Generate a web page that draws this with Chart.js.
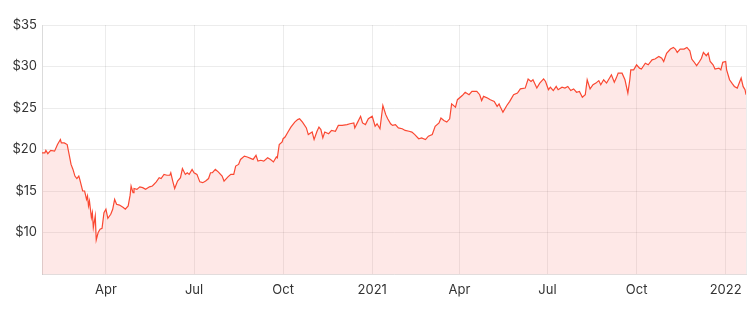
<!DOCTYPE html>
<html>
<head>
<meta charset="utf-8">
<script src="https://cdn.jsdelivr.net/npm/chart.js@4.4.1/dist/chart.umd.min.js"></script>
<style>
  html, body { margin: 0; padding: 0; background: #fff; }
  #wrap { width: 756px; height: 309px; }
</style>
</head>
<body>
<div id="wrap"><canvas id="chartPrice"></canvas></div>
<script>
// days counted from this date
const startDate = '2020-01-01';

// day offsets of each price reading
const days = [
  25, 28, 29, 31, 34, 38, 41, 44, 45, 48,
  51, 53, 55, 57, 59, 61, 63, 64, 67, 69,
  71, 72, 73, 74, 76, 77, 78, 80, 81, 83,
  85, 87, 89, 91, 93, 96, 98, 100, 102, 105,
  109, 111, 114, 116, 117, 119, 120, 123, 126, 129,
  132, 136, 139, 143, 146, 148, 151, 154, 157, 158,
  160, 162, 165, 168, 170, 173, 175, 177, 180, 182,
  185, 188, 191, 194, 197, 199, 201, 204, 207, 211,
  213, 217, 220, 223, 225, 228, 230, 234, 237, 241,
  243, 246, 248, 251, 254, 258, 261, 264, 267, 268,
  270, 273, 274, 276, 279, 282, 286, 289, 291, 294,
  298, 300, 304, 306, 309, 311, 313, 315, 317, 321,
  324, 328, 331, 335, 340, 343, 347, 348, 351, 354,
  356, 359, 362, 366, 369, 371, 374, 377, 380, 382,
  385, 387, 390, 393, 397, 400, 404, 407, 410, 414,
  417, 421, 424, 428, 431, 435, 437, 440, 443, 446,
  448, 452, 454, 459, 462, 466, 469, 474, 477, 479,
  481, 485, 488, 492, 495, 497, 498, 501, 505, 508,
  512, 516, 519, 524, 527, 530, 532, 536, 539, 543,
  545, 548, 550, 553, 556, 558, 562, 565, 568, 571,
  574, 577, 580, 583, 586, 588, 591, 594, 597, 600,
  602, 605, 608, 612, 613, 616, 618, 620, 624, 627,
  630, 632, 633, 636, 639, 642, 644, 648, 651, 655,
  658, 662, 665, 667, 670, 674, 677, 679, 681, 684,
  688, 691, 694, 696, 698, 701, 704, 706, 708, 711,
  713, 715, 718, 720, 724, 726, 728, 731, 732, 735,
  738, 740, 743, 744, 747, 749, 750, 751, 752
];

const prices = [
  19.6, 19.6, 19.9, 19.5, 19.9, 19.8, 20.6, 21.2, 20.8, 20.8,
  20.6, 19.4, 18.2, 17.6, 16.8, 16.5, 16.8, 16.4, 15.0, 15.0,
  14.0, 14.4, 13.2, 13.8, 11.8, 12.4, 10.6, 12.0, 9.1, 10.0,
  10.4, 10.5, 12.4, 12.8, 11.7, 12.2, 12.8, 14.0, 13.4, 13.3,
  13.0, 12.8, 13.2, 14.5, 15.6, 14.8, 15.3, 15.2, 15.5, 15.4,
  15.2, 15.5, 15.6, 16.1, 16.6, 16.5, 17.0, 16.9, 16.9, 17.2,
  16.2, 15.3, 16.2, 16.6, 17.7, 17.0, 17.2, 17.0, 17.6, 17.2,
  17.0, 16.1, 16.0, 16.2, 16.5, 17.2, 17.2, 17.6, 17.3, 16.8,
  16.2, 16.7, 17.0, 17.0, 18.0, 18.2, 18.8, 19.2, 19.1, 18.9,
  18.8, 19.3, 18.6, 18.7, 18.6, 19.0, 18.8, 18.5, 19.1, 19.0,
  20.6, 20.9, 21.3, 21.5, 22.1, 22.7, 23.3, 23.6, 23.7, 23.3,
  22.6, 21.8, 22.1, 21.2, 22.2, 22.7, 22.4, 21.4, 22.1, 21.9,
  22.3, 22.2, 22.9, 22.9, 23.0, 23.1, 23.2, 22.6, 23.3, 24.0,
  23.2, 23.0, 23.7, 24.0, 22.8, 23.1, 22.5, 25.3, 24.2, 23.7,
  23.1, 22.9, 23.0, 22.6, 22.5, 22.3, 22.2, 22.1, 21.8, 21.3,
  21.4, 21.2, 21.6, 21.8, 22.8, 23.2, 23.8, 23.5, 23.3, 23.7,
  25.5, 25.1, 26.0, 26.5, 26.9, 26.6, 27.0, 27.0, 26.6, 25.9,
  26.4, 26.2, 26.0, 25.8, 25.2, 25.5, 25.2, 24.5, 25.3, 25.8,
  26.6, 26.8, 27.3, 27.4, 28.5, 28.2, 28.4, 27.4, 28.0, 28.5,
  28.2, 27.2, 27.5, 27.1, 27.6, 27.2, 27.5, 27.4, 27.6, 27.1,
  27.3, 26.9, 27.0, 26.3, 26.6, 28.4, 27.3, 27.8, 28.0, 28.3,
  27.8, 28.4, 28.0, 28.8, 29.0, 28.1, 28.6, 29.2, 29.2, 28.4,
  26.8, 28.4, 29.6, 29.6, 30.2, 29.8, 29.7, 30.4, 30.2, 30.8,
  30.9, 31.2, 31.0, 30.6, 31.6, 32.1, 32.3, 32.1, 31.7, 32.1,
  32.1, 32.3, 31.9, 30.9, 30.6, 30.1, 30.6, 31.0, 31.7, 31.3,
  31.6, 30.6, 30.2, 29.7, 29.8, 29.6, 30.5, 30.6, 29.6, 28.4,
  27.9, 27.6, 27.4, 27.7, 28.6, 27.6, 27.4, 27.2, 26.6
];

// x axis ticks
const tickDates = ['2020-04-01', '2020-07-01', '2020-10-01', '2021-01-01',
                   '2021-04-01', '2021-07-01', '2021-10-01', '2022-01-01'];
const tickLabels = ['Apr', 'Jul', 'Oct', '2021', 'Apr', 'Jul', 'Oct', '2022'];

// y axis ticks
const priceMin = 5;
const priceMax = 35;
const priceStep = 5;

function dayOffset(iso) {
  const [y, m, d] = iso.split('-').map(Number);
  const [y0, m0, d0] = startDate.split('-').map(Number);
  return Math.round((Date.UTC(y, m - 1, d) - Date.UTC(y0, m0 - 1, d0)) / 86400000);
}

const tickDays = tickDates.map(dayOffset);
const firstDay = days[0];
const lastDay = days[days.length - 1];

const gridColor = 'rgba(0, 0, 0, 0.075)';
const fontSpec = { family: 'Inter, "Noto Sans", sans-serif', size: 13 };

new Chart(document.getElementById('chartPrice'), {
  type: 'line',
  data: {
    datasets: [{
      data: days.map((d, i) => ({ x: d, y: prices[i] })),
      borderColor: 'rgb(250, 72, 50)',
      backgroundColor: 'rgba(244, 67, 54, 0.12)',
      borderWidth: 1.2,
      pointRadius: 0,
      tension: 0,
      fill: 'start'
    }]
  },
  options: {
    responsive: true,
    maintainAspectRatio: false,
    animation: false,
    layout: {
      padding: { top: 25, right: 10, left: 0, bottom: 0 }
    },
    plugins: {
      legend: { display: false },
      tooltip: { enabled: false }
    },
    scales: {
      x: {
        type: 'linear',
        min: firstDay,
        max: lastDay,
        afterBuildTicks: axis => {
          axis.ticks = [firstDay, ...tickDays, lastDay].map(v => ({ value: v }));
        },
        afterFit: axis => { axis.height = 35; },
        ticks: {
          autoSkip: false,
          maxRotation: 0,
          padding: 8,
          color: '#333',
          font: fontSpec,
          callback: value => {
            const i = tickDays.indexOf(value);
            return i >= 0 ? tickLabels[i] : '';
          }
        },
        grid: { color: gridColor, drawTicks: false },
        border: { color: '#e2dcdc' }
      },
      y: {
        min: priceMin,
        max: priceMax,
        afterFit: axis => { axis.width = 42; },
        ticks: {
          stepSize: priceStep,
          padding: 5,
          color: '#333',
          font: fontSpec,
          callback: value => value === priceMin ? '' : '$' + value
        },
        grid: { color: gridColor, drawTicks: false },
        border: { color: gridColor }
      }
    }
  }
});
</script>
</body>
</html>
